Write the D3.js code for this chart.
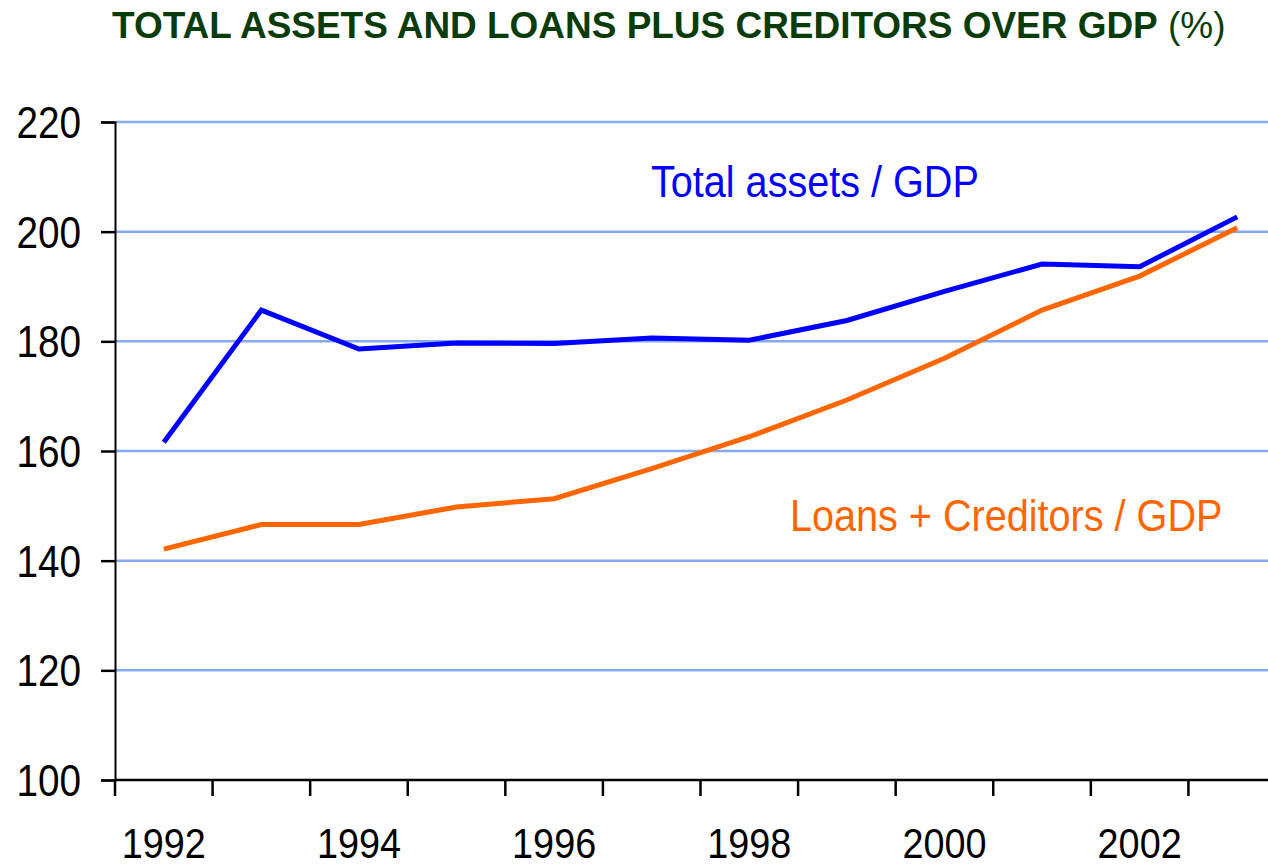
<!DOCTYPE html>
<html>
<head>
<meta charset="utf-8">
<script src="https://cdn.jsdelivr.net/npm/d3@7"></script>
<style>
  body { margin: 0; background: #fff; }
  svg { display: block; }
  text { font-family: "Liberation Sans", Arial, Helvetica, sans-serif; }
</style>
</head>
<body>
<svg id="chart" width="1268" height="865"></svg>
<script>
// Series: ratios to GDP, in percent
const years = [1992, 1993, 1994, 1995, 1996, 1997, 1998, 1999, 2000, 2001, 2002, 2003];
const totalAssets = [161.6, 185.7, 178.6, 179.7, 179.6, 180.6, 180.2, 183.8, 189.1, 194.1, 193.6, 202.7];
const loansCreditors = [142.1, 146.6, 146.6, 149.8, 151.3, 156.8, 162.6, 169.3, 176.9, 185.7, 191.9, 200.7];
const yTicks = [100, 120, 140, 160, 180, 200, 220];
const yearLabels = [1992, 1994, 1996, 1998, 2000, 2002];
const seriesLabels = ["Total assets / GDP", "Loans + Creditors / GDP"];

const svg = d3.select("#chart");
const W = 1268;
const plot = { left: 115, right: 1286, top: 122, bottom: 780 };
const squeeze = 0.88; // narrow letterforms

const x = d3.scaleBand().domain(years).range([plot.left, plot.right]).paddingInner(0).paddingOuter(0);
const y = d3.scaleLinear().domain([100, 220]).range([plot.bottom, plot.top]);

// Title
const title = svg.append("text")
  .attr("y", 38.5)
  .attr("fill", "#0a3c0a")
  .attr("font-size", 37);
title.append("tspan").attr("font-weight", "bold").text("TOTAL ASSETS AND LOANS PLUS CREDITORS OVER GDP");
title.append("tspan").attr("font-weight", "normal").text(" (%)");
{
  const len = title.node().getComputedTextLength();
  const target = 1226 - 112;
  title.attr("transform", `translate(112,0) scale(${target / len},1)`);
}

// Horizontal gridlines
svg.append("g")
  .selectAll("line")
  .data(yTicks.filter(d => d > 100))
  .join("line")
  .attr("x1", plot.left)
  .attr("x2", W)
  .attr("y1", d => y(d))
  .attr("y2", d => y(d))
  .attr("stroke", "#86aaf2")
  .attr("stroke-width", 2.5);

// Y axis
const yAxis = svg.append("g")
  .attr("transform", `translate(${plot.left},0)`)
  .call(d3.axisLeft(y).tickValues(yTicks).tickSize(14).tickFormat(""));
yAxis.select(".domain").attr("stroke", "#000").attr("stroke-width", 2);
yAxis.selectAll(".tick line").attr("stroke", "#000").attr("stroke-width", 2.5);

svg.append("g")
  .selectAll("text")
  .data(yTicks)
  .join("text")
  .attr("transform", d => `translate(81,${y(d)}) scale(${squeeze},1)`)
  .attr("text-anchor", "end")
  .attr("dy", "0.36em")
  .attr("font-size", 44)
  .attr("fill", "#000")
  .text(d => d);

// X axis
const xAxis = svg.append("g");
xAxis.append("line")
  .attr("x1", plot.left).attr("x2", W)
  .attr("y1", plot.bottom).attr("y2", plot.bottom)
  .attr("stroke", "#000").attr("stroke-width", 2.5);
xAxis.selectAll("line.tick")
  .data(years)
  .join("line")
  .attr("class", "tick")
  .attr("x1", d => x(d)).attr("x2", d => x(d))
  .attr("y1", plot.bottom).attr("y2", plot.bottom + 16)
  .attr("stroke", "#000").attr("stroke-width", 2.5);
xAxis.selectAll("text")
  .data(yearLabels)
  .join("text")
  .attr("transform", d => `translate(${x(d) + x.bandwidth() / 2},858) scale(${squeeze + 0.02},1)`)
  .attr("text-anchor", "middle")
  .attr("font-size", 42)
  .attr("fill", "#000")
  .text(d => d);

// Lines
const line = d3.line()
  .x((d, i) => x(years[i]) + x.bandwidth() / 2)
  .y(d => y(d));

svg.append("path")
  .datum(loansCreditors)
  .attr("d", line)
  .attr("fill", "none")
  .attr("stroke", "#ff6600")
  .attr("stroke-width", 5);

svg.append("path")
  .datum(totalAssets)
  .attr("d", line)
  .attr("fill", "none")
  .attr("stroke", "#0000ff")
  .attr("stroke-width", 5);

// Series labels
svg.append("text")
  .attr("transform", `translate(651,197) scale(${squeeze},1)`)
  .attr("font-size", 45)
  .attr("fill", "#0000ff")
  .text(seriesLabels[0]);

svg.append("text")
  .attr("transform", `translate(790,531) scale(${squeeze},1)`)
  .attr("font-size", 45)
  .attr("fill", "#ff6600")
  .text(seriesLabels[1]);
</script>
</body>
</html>
